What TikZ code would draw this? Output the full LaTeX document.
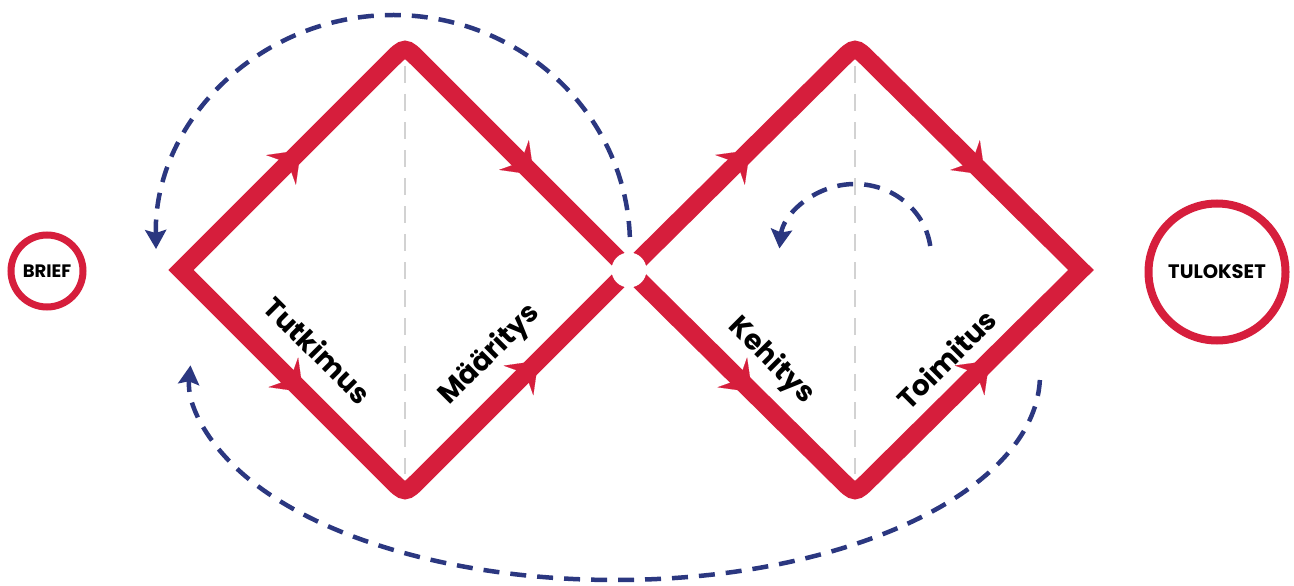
\documentclass[tikz,border=0pt]{standalone}
\usepackage{fontspec}
\setmainfont{Poppins}
\usetikzlibrary{arrows.meta,calc}
\definecolor{dtred}{RGB}{214,30,60}
\definecolor{dtblue}{RGB}{43,55,128}
\definecolor{dtgray}{RGB}{210,210,210}
\begin{document}
\begin{tikzpicture}[x=1pt,y=-1pt,
  diamondline/.style={draw=dtred,line width=18pt,line join=miter,miter limit=10},
  redtip/.style={draw=dtred,fill=dtred,line width=0.1pt,-{Stealth[length=28pt,width=42pt,inset=10pt]}},
  bluedash/.style={draw=dtblue,line width=4.5pt,dash pattern=on 16pt off 11pt,-{Stealth[length=19pt,width=21pt,inset=3pt]}},
  grayline/.style={draw=dtgray,line width=1.2pt,dash pattern=on 17pt off 11pt},
  phaselabel/.style={font=\bfseries\fontsize{28}{28}\selectfont,text=black,inner sep=0pt},
  endcircle/.style={circle,draw=dtred,fill=white,font=\bfseries,text=black,inner sep=0pt},
  hole/.style={circle,fill=white,minimum size=35pt,inner sep=0pt}
]
\useasboundingbox[fill=white] (0,0) rectangle (1294,586);

% vertices
\coordinate (L1) at (181,270);
\coordinate (T1) at (405,46);
\coordinate (R1) at (629,270);
\coordinate (B1) at (405,494);
\coordinate (L2) at (629,270);
\coordinate (T2) at (855,46);
\coordinate (R2) at (1081,270);
\coordinate (B2) at (855,494);

% gray dashed centre lines
\draw[grayline] ($(T1)+(0,20)$) -- ($(B1)+(0,-20)$);
\draw[grayline] ($(T2)+(0,20)$) -- ($(B2)+(0,-20)$);

% diamonds
\draw[diamondline] (L1) -- ($(T1)+(-15,15)$) .. controls (T1) .. ($(T1)+(15,15)$) -- (R1)
   -- ($(B1)+(15,-15)$) .. controls (B1) .. ($(B1)+(-15,-15)$) -- cycle;
\draw[diamondline] (L2) -- ($(T2)+(-15,15)$) .. controls (T2) .. ($(T2)+(15,15)$) -- (R2)
   -- ($(B2)+(15,-15)$) .. controls (B2) .. ($(B2)+(-15,-15)$) -- cycle;

% direction arrows on the red lines
\foreach \L/\T/\R/\B in {L1/T1/R1/B1, L2/T2/R2/B2}{
  \draw[redtip] ($(\L)!0.45!(\T)$) -- ($(\L)!0.535!(\T)$);
  \draw[redtip] ($(\T)!0.49!(\R)$) -- ($(\T)!0.575!(\R)$);
  \draw[redtip] ($(\L)!0.46!(\B)$) -- ($(\L)!0.545!(\B)$);
  \draw[redtip] ($(\B)!0.51!(\R)$) -- ($(\B)!0.595!(\R)$);
}

% centre hole
\node[hole] (hole) at (R1) {};

% labels
\node[phaselabel,rotate=-45] (tut) at (318,350) {Tutkimus};
\node[phaselabel,rotate=45]  (maa) at (490,355) {Määritys};
\node[phaselabel,rotate=-45] (keh) at (771,361) {Kehitys};
\node[phaselabel,rotate=45]  (toi) at (946,359) {Toimitus};

% end circles
\node[endcircle,line width=7pt,minimum size=72pt,font=\bfseries\fontsize{18}{18}\selectfont] (brief) at (47,271) {BRIEF};
\node[endcircle,line width=8pt,minimum size=137pt,font=\bfseries\fontsize{19.5}{19.5}\selectfont] (tulokset) at (1217,272) {TULOKSET};

% dashed feedback arcs
\coordinate (c1) at (393,245);
\draw[bluedash] ($(c1)+(-2:237 and 230)$) arc[start angle=-2,end angle=-181,x radius=237,y radius=230];
\coordinate (c2) at (615,375);
\draw[bluedash] ($(c2)+(1.4:425 and 205)$) arc[start angle=1.4,end angle=182.7,x radius=425,y radius=205];
\coordinate (c3) at (855,256);
\draw[bluedash] ($(c3)+(-8:76 and 72)$) arc[start angle=-8,end angle=-174,x radius=76,y radius=72];
\end{tikzpicture}
\end{document}
